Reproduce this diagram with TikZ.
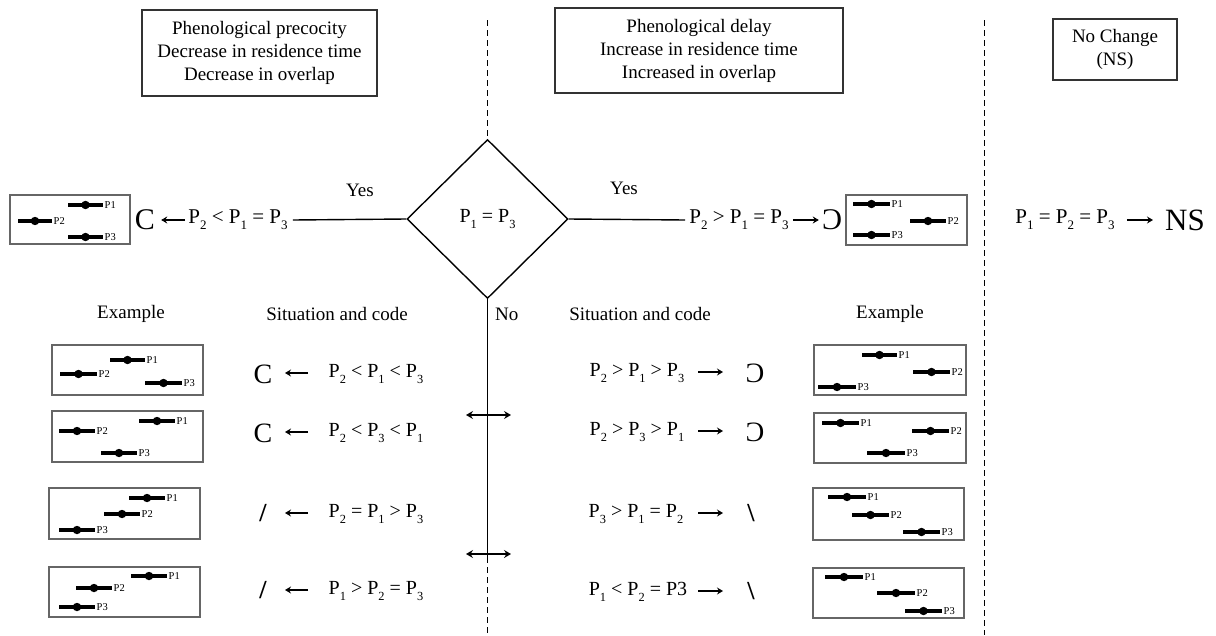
\documentclass[tikz,border=0pt]{standalone}
\usepackage{fontspec}
\setmainfont{Liberation Serif}
\usepackage{graphicx}
\usetikzlibrary{shapes.geometric,arrows.meta}
\newcommand\Pq[1]{P\raisebox{-0.28em}{\fontsize{0.62em}{0.7em}\selectfont #1}}
\newcommand\pbar[4]{%
  \draw[barline] (#1,#3) -- (#2,#3);
  \fill ({(#1+#2)/2},#3) circle (4.2);
  \node[blab] at (#2,#3) {#4};}
\tikzset{
  txt/.style={font=\fontsize{19}{23}\selectfont, inner sep=0pt},
  fml/.style={font=\fontsize{20}{24}\selectfont, inner sep=2pt},
  fmltop/.style={font=\fontsize{21}{24}\selectfont, inner sep=2pt},
  codeC/.style={font=\fontsize{28}{30}\selectfont, inner sep=0pt},
  codeS/.style={font=\fontsize{26}{30}\selectfont\bfseries, inner sep=0pt},
  topbox/.style={draw=black!80, line width=1.2pt, align=center, font=\fontsize{19}{23}\selectfont, inner sep=0pt},
  exbox/.style={draw=black!60, line width=1.1pt, inner sep=0pt},
  barline/.style={line width=3.8pt},
  blab/.style={font=\fontsize{10.5}{11}\selectfont, inner sep=1.5pt, anchor=west},
  dashv/.style={line width=1.7pt, dash pattern=on 6pt off 4pt},
  conn/.style={line width=1.4pt},
  tarrow/.style={line width=1.3pt, -{Stealth[length=6pt,width=7pt,inset=2pt]}},
  darrow/.style={line width=1.3pt, {Stealth[length=7pt,width=8pt,inset=2.5pt]}-{Stealth[length=7pt,width=8pt,inset=2.5pt]}},
}
\begin{document}
\begin{tikzpicture}[x=1pt,y=-1pt]
\useasboundingbox (0,0) rectangle (1216,635);
\fill[white] (0,0) rectangle (1216,635);

% top boxes
\node[topbox, minimum width=235pt, minimum height=86pt] (tbl) at (259.5,53) {Phenological precocity\\Decrease in residence time\\Decrease in overlap};
\node[topbox, minimum width=288pt, minimum height=85pt] (tbm) at (699,50.5) {Phenological delay\\Increase in residence time\\Increased in overlap};
\node[topbox, minimum width=124pt, minimum height=61pt] (tbr) at (1115,49.5) {No Change\\(NS)};

% diamond
\node[diamond, draw, conn, minimum width=161pt, minimum height=159pt, inner sep=0pt, font=\fontsize{20}{24}\selectfont] (d) at (487.5,219) {\Pq{1} = \Pq{3}};

% dashed separators
\coordinate (dtop) at (487.5,20);
\coordinate (dbot) at (487.5,557);
\coordinate (dend) at (487.5,635);
\draw[dashv] (dtop) -- (d.north);
\draw[dashv] (dbot) -- (dend);
\coordinate (rtop) at (984.5,20);
\coordinate (rbot) at (984.5,635);
\draw[dashv] (rtop) -- (rbot);

% vertical solid with double arrows
\draw[conn] (d.south) -- (dbot);
\coordinate (da1) at (466,415); \coordinate (db1) at (511,415);
\coordinate (da2) at (466,554); \coordinate (db2) at (511,554);
\draw[darrow] (da1) -- (db1);
\draw[darrow] (da2) -- (db2);

% Yes / No
\node[txt] (yesL) at (360,190) {Yes};
\node[txt] (yesR) at (624,188) {Yes};
\node[txt, anchor=west] (no) at (495,314) {No};

% top-left result
\node[fmltop] (fL) at (238,220) {\Pq{2} < \Pq{1} = \Pq{3}};
\draw[conn] (d.west) -- ([xshift=3pt]fL.east);
\node[codeC, font=\fontsize{30}{32}\selectfont] (cL) at (145,220) {C};
\draw[tarrow] ([xshift=-1pt]fL.west) -- ([xshift=6pt]cL.east);
\node[exbox, minimum width=120pt, minimum height=49pt] (exT1) at (70,219.5) {};
\pbar{68}{103}{205}{P1}
\pbar{18}{52}{221}{P2}
\pbar{68}{103}{237}{P3}

% top-right result
\node[fmltop] (fR) at (739,220) {\Pq{2} > \Pq{1} = \Pq{3}};
\draw[conn] (d.east) -- ([xshift=-2pt]fR.west);
\node[codeC, font=\fontsize{30}{32}\selectfont] (cR) at (832,220) {\reflectbox{C}};
\draw[tarrow] ([xshift=2pt]fR.east) -- ([xshift=-3pt]cR.west);
\node[exbox, minimum width=121pt, minimum height=50pt] (exT2) at (906.5,220) {};
\pbar{853}{890}{204}{P1}
\pbar{910}{946}{221}{P2}
\pbar{853}{890}{235}{P3}

% NS
\node[fmltop] (fNS) at (1065,220) {\Pq{1} = \Pq{2} = \Pq{3}};
\node[codeC, font=\fontsize{31}{33}\selectfont] (ns) at (1185,220) {NS};
\draw[tarrow] ([xshift=10pt]fNS.east) -- ([xshift=-12pt]ns.west);

% headers
\node[txt] (h1) at (131,314) {Example};
\node[txt] (h2) at (337,314) {Situation and code};
\node[txt] (h3) at (640,314) {Situation and code};
\node[txt] (h4) at (890,314) {Example};

% left rows
\node[fml] (fl1) at (376,374) {\Pq{2} < \Pq{1} < \Pq{3}};
\node[fml] (fl2) at (376,433) {\Pq{2} < \Pq{3} < \Pq{1}};
\node[fml] (fl3) at (376,514) {\Pq{2} = \Pq{1} > \Pq{3}};
\node[fml] (fl4) at (376,591) {\Pq{1} > \Pq{2} = \Pq{3}};
\node[codeC] (cl1) at (263,374) {C};
\node[codeC] (cl2) at (263,433) {C};
\node[codeS] (cl3) at (263,513) {/};
\node[codeS] (cl4) at (263,590) {/};
\coordinate (al1) at (308,373); \coordinate (bl1) at (285,373);
\coordinate (al2) at (308,432); \coordinate (bl2) at (285,432);
\coordinate (al3) at (308,513); \coordinate (bl3) at (285,513);
\coordinate (al4) at (308,590); \coordinate (bl4) at (285,590);
\draw[tarrow] (al1) -- (bl1);
\draw[tarrow] (al2) -- (bl2);
\draw[tarrow] (al3) -- (bl3);
\draw[tarrow] (al4) -- (bl4);

\node[exbox, minimum width=151pt, minimum height=50pt] (exL1) at (127.5,370) {};
\pbar{110}{145}{360}{P1}
\pbar{60}{97}{374}{P2}
\pbar{145}{182}{383}{P3}
\node[exbox, minimum width=151pt, minimum height=51pt] (exL2) at (127.5,436.5) {};
\pbar{139}{175}{421}{P1}
\pbar{59}{95}{431}{P2}
\pbar{101}{137}{453}{P3}
\node[exbox, minimum width=151pt, minimum height=51pt] (exL3) at (124.5,513.5) {};
\pbar{129}{165}{498}{P1}
\pbar{104}{140}{514}{P2}
\pbar{59}{95}{530}{P3}
\node[exbox, minimum width=151pt, minimum height=50pt] (exL4) at (124.5,592) {};
\pbar{131}{167}{576}{P1}
\pbar{76}{112}{588}{P2}
\pbar{59}{95}{607}{P3}

% right rows
\node[fml] (fr1) at (637,373) {\Pq{2} > \Pq{1} > \Pq{3}};
\node[fml] (fr2) at (637,432) {\Pq{2} > \Pq{3} > \Pq{1}};
\node[fml] (fr3) at (636,514) {\Pq{3} > \Pq{1} = \Pq{2}};
\node[fml] (fr4) at (638,592) {\Pq{1} < \Pq{2} = P3};
\node[codeC] (cr1) at (755,373) {\reflectbox{C}};
\node[codeC] (cr2) at (755,432) {\reflectbox{C}};
\node[codeS] (cr3) at (751,513) {\textbackslash};
\node[codeS] (cr4) at (751,591) {\textbackslash};
\coordinate (ar1) at (698,372); \coordinate (br1) at (723,372);
\coordinate (ar2) at (698,431); \coordinate (br2) at (723,431);
\coordinate (ar3) at (698,513); \coordinate (br3) at (723,513);
\coordinate (ar4) at (698,591); \coordinate (br4) at (723,591);
\draw[tarrow] (ar1) -- (br1);
\draw[tarrow] (ar2) -- (br2);
\draw[tarrow] (ar3) -- (br3);
\draw[tarrow] (ar4) -- (br4);

\node[exbox, minimum width=152pt, minimum height=50pt] (exR1) at (890,370) {};
\pbar{862}{897}{355}{P1}
\pbar{913}{950}{372}{P2}
\pbar{818}{856}{387}{P3}
\node[exbox, minimum width=152pt, minimum height=50pt] (exR2) at (890,438) {};
\pbar{822}{859}{423}{P1}
\pbar{912}{949}{431}{P2}
\pbar{867}{905}{453}{P3}
\node[exbox, minimum width=151pt, minimum height=52pt] (exR3) at (888.5,514) {};
\pbar{828}{866}{497}{P1}
\pbar{852}{889}{515}{P2}
\pbar{903}{940}{532}{P3}
\node[exbox, minimum width=151pt, minimum height=50pt] (exR4) at (888.5,593) {};
\pbar{825}{863}{577}{P1}
\pbar{877}{915}{593}{P2}
\pbar{905}{942}{611}{P3}
\end{tikzpicture}
\end{document}
